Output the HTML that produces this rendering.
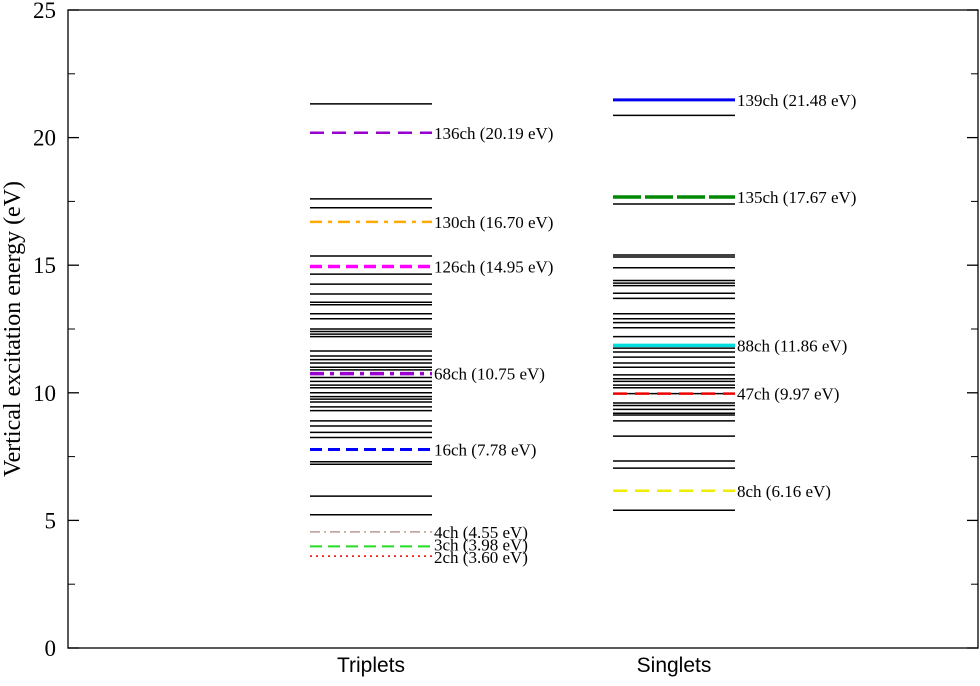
<!DOCTYPE html>
<html><head><meta charset="utf-8"><style>
body{margin:0;background:#fff}
svg text{font-family:"Liberation Serif",serif}
</style></head><body>
<svg id="chart" width="980" height="681" viewBox="0 0 980 681" xmlns="http://www.w3.org/2000/svg">
<g id="g"></g>
</svg>
<script>
const categories=["Triplets","Singlets"];
const yTicks=[0,5,10,15,20,25];
const tripletBlack=[5.22,5.95,7.2,7.3,8.25,8.45,8.7,8.9,9.3,9.45,9.64,9.75,9.85,10.0,10.2,10.3,10.45,10.6,10.9,11.0,11.17,11.3,11.44,11.64,12.2,12.3,12.4,12.5,12.9,13.1,13.45,13.55,13.87,14.26,14.65,15.36,17.25,17.6,21.32];
const singletBlack=[5.4,7.05,7.33,8.3,8.9,9.13,9.2,9.35,9.5,9.6,9.97,10.2,10.3,10.45,10.55,10.7,11.0,11.17,11.4,11.6,11.75,12.2,12.55,12.75,12.9,13.1,13.7,13.9,14.2,14.3,14.4,14.9,15.32,15.4,17.4,20.87];
const tripletLabels=["2ch (3.60 eV)","3ch (3.98 eV)","4ch (4.55 eV)","16ch (7.78 eV)","68ch (10.75 eV)","126ch (14.95 eV)","130ch (16.70 eV)","136ch (20.19 eV)"];
const tripletValues=[3.60,3.98,4.55,7.78,10.75,14.95,16.70,20.19];
const tripletColors=["#e00","#2d2","#b99","#00f","#90c","#f0f","#fa0","#90c"];
const tripletDash=["2,4","12,6","10,4,2,4","12,6","14,6,4,6","12,6","12,6,4,6","14,8"];
const tripletWidth=[1.5,2,1.5,3,3.5,3.5,2.5,2.5];
const singletLabels=["8ch (6.16 eV)","47ch (9.97 eV)","88ch (11.86 eV)","135ch (17.67 eV)","139ch (21.48 eV)"];
const singletValues=[6.16,9.97,11.86,17.67,21.48];
const singletColors=["#ee0","#e00","#0dd","#080","#00e"];
const singletDash=["14,8","14,8","","28,4",""];
const singletWidth=[2.5,2.5,3.5,3.5,3];
const L=68,R=978,T=10,B=648;
const y=v=>B-(v-0)/(25-0)*(B-T);
const xr=[[310,432],[613,735]];
const g=document.getElementById('g');
const NS='http://www.w3.org/2000/svg';
function mk(t,a){const e=document.createElementNS(NS,t);for(const k in a)e.setAttribute(k,a[k]);g.appendChild(e);return e;}
let f=mk('rect',{x:L,y:T,width:R-L,height:B-T,fill:'none',stroke:'#000','stroke-width':1.3});


yTicks.forEach(v=>{
 let t=mk('line',{x1:L,x2:L+11,y1:y(v),y2:y(v),stroke:'#000','stroke-width':1.3});
 
 
 let t2=mk('line',{x1:R-11,x2:R,y1:y(v),y2:y(v),stroke:'#000','stroke-width':1.3});
 
 
 let lb=mk('text',{x:56,y:y(v)+8,'text-anchor':'end','font-size':23});
 lb.textContent=v;
 
 
 if(v<25){
  let m=mk('line',{x1:L,x2:L+7,y1:y(v+2.5),y2:y(v+2.5),stroke:'#000','stroke-width':1});
  
  
  let m2=mk('line',{x1:R-7,x2:R,y1:y(v+2.5),y2:y(v+2.5),stroke:'#000','stroke-width':1});
  
  
 }
});
let yt=mk('text',{x:0,y:0,'text-anchor':'middle','font-size':24,transform:'translate(20,329) rotate(-90)'});
yt.textContent='Vertical excitation energy (eV)';


categories.forEach((c,i)=>{
 let cx=(xr[i][0]+xr[i][1])/2;
 let tx=mk('text',{x:cx,y:672,'text-anchor':'middle','font-size':21,style:'font-family:"Liberation Sans",sans-serif'});
 tx.textContent=c;
 
 
});
function levels(arr,i){arr.forEach(v=>{
 let l=mk('line',{x1:xr[i][0],x2:xr[i][1],y1:y(v),y2:y(v),stroke:'#000','stroke-width':1.5});
 
 
});}
levels(tripletBlack,0);levels(singletBlack,1);
function colored(vals,labs,cols,dash,w,i){vals.forEach((v,k)=>{
 const a={x1:xr[i][0],x2:xr[i][1],y1:y(v),y2:y(v),stroke:cols[k],'stroke-width':w[k]};
 if(dash[k])a['stroke-dasharray']=dash[k];
 let l=mk('line',a);
 
 
 let off=(i==0&&k<3)?[7,4,6][k]:6;
 let t=mk('text',{x:xr[i][1]+2,y:y(v)+off,'font-size':17});
 t.textContent=labs[k];
 
 
});}
colored(tripletValues,tripletLabels,tripletColors,tripletDash,tripletWidth,0);
colored(singletValues,singletLabels,singletColors,singletDash,singletWidth,1);
</script>
</body></html>
